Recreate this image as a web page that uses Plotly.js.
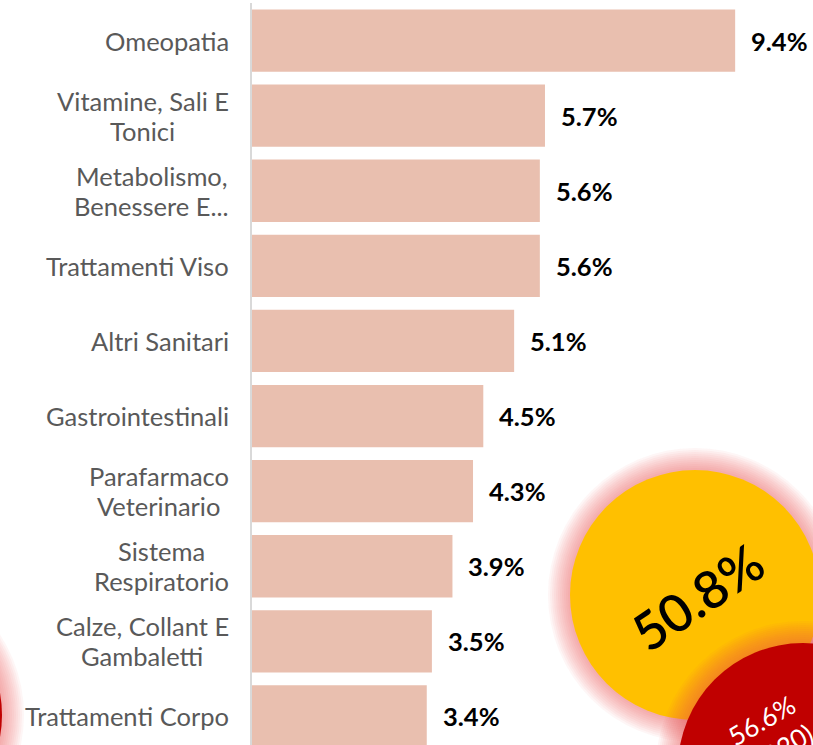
<!DOCTYPE html>
<html>
<head>
<meta charset="utf-8">
<script src="https://cdn.plot.ly/plotly-3.0.1.min.js"></script>
<style>
html,body{margin:0;padding:0;background:#fff;}
#chart{width:813px;height:745px;}
</style>
</head>
<body>
<div id="chart"></div>
<script>
// ---- data ----
var categories = ["Omeopatia","Vitamine, Sali E Tonici","Metabolismo, Benessere E...","Trattamenti Viso","Altri Sanitari","Gastrointestinali","Parafarmaco Veterinario","Sistema Respiratorio","Calze, Collant E Gambaletti","Trattamenti Corpo"];
var tickLabels = ["Omeopatia","Vitamine, Sali E<br>Tonici","Metabolismo,<br>Benessere E...","Trattamenti Viso","Altri Sanitari","Gastrointestinali","Parafarmaco<br>Veterinario","Sistema<br>Respiratorio","Calze, Collant E<br>Gambaletti","Trattamenti Corpo"];
var shareValues = [9.4,5.7,5.6,5.6,5.1,4.5,4.3,3.9,3.5,3.4];
var bubbleLabels = ["50.8%","56.6%<br>(2020)"];

// ---- layout helpers ----
var W = 813, H = 745;
var M = {l:252, r:0, t:3, b:0};
var PW = W - M.l - M.r, PH = H - M.t - M.b;
function px2x(px){ return (px - M.l)/PW; }
function px2y(py){ return (H - M.b - py)/PH; }

var FONT = "Lato, 'Open Sans', sans-serif";
var LABEL_SIZE = 25.5;
var LINE_GAP = 30;
var LABEL_GAP = 23;

function draw(){
  var ctx = document.createElement('canvas').getContext('2d');
  ctx.font = LABEL_SIZE + 'px Lato';
  function textW(s){ return ctx.measureText(s).width; }

  var trace = {
    type:'bar', orientation:'h',
    y: categories, x: shareValues,
    marker:{color:'#E9BFAF'},
    hoverinfo:'none'
  };

  var annotations = [];
  categories.forEach(function(c,i){
    var lines = tickLabels[i].split('<br>');
    var n = lines.length;
    var maxW = Math.max.apply(null, lines.map(textW));
    lines.forEach(function(line, j){
      annotations.push({
        xref:'paper', yref:'y', x:0, y:c, xanchor:'center', yanchor:'middle',
        xshift:-LABEL_GAP - maxW/2, yshift:((n-1)/2 - j) * LINE_GAP, showarrow:false,
        text: line, font:{family:FONT, size:LABEL_SIZE, color:'#595959'}
      });
    });
    annotations.push({
      xref:'x', yref:'y', x:shareValues[i], y:c, xanchor:'left', yanchor:'middle',
      xshift:14, showarrow:false,
      text:'<b>'+shareValues[i].toFixed(1)+'%</b>', font:{family:FONT, size:LABEL_SIZE, color:'#000000'}
    });
  });

  var shapes = [];
  function glowCircle(cx, cy, r, fill){
    for (var k=11;k>=1;k--){
      var rr = r + k*2;
      shapes.push({type:'circle', layer:'above', xref:'paper', yref:'paper',
        xsizemode:'pixel', ysizemode:'pixel', xanchor:px2x(cx), yanchor:px2y(cy),
        x0:-rr, x1:rr, y0:-rr, y1:rr,
        fillcolor:'rgba(245,70,80,0.05)', line:{width:0}});
    }
    shapes.push({type:'circle', layer:'above', xref:'paper', yref:'paper',
      xsizemode:'pixel', ysizemode:'pixel', xanchor:px2x(cx), yanchor:px2y(cy),
      x0:-r, x1:r, y0:-r, y1:r, fillcolor:fill, line:{width:0}});
  }
  glowCircle(-123, 715, 125, '#C00000');
  glowCircle(695, 595, 125, '#FFC000');
  glowCircle(803, 768, 125, '#C00000');

  annotations.push({xref:'paper', yref:'paper', x:px2x(697), y:px2y(597), xanchor:'center', yanchor:'middle',
    showarrow:false, textangle:-34, text:bubbleLabels[0], font:{family:FONT, size:52, weight:600, color:'#000000'}});
  annotations.push({xref:'paper', yref:'paper', x:px2x(770), y:px2y(735), xanchor:'center', yanchor:'middle',
    showarrow:false, textangle:-30, text:bubbleLabels[1], font:{family:FONT, size:26, color:'#FFFFFF'}});

  var layout = {
    width:W, height:H,
    margin:M,
    paper_bgcolor:'#ffffff', plot_bgcolor:'#ffffff',
    showlegend:false,
    bargap:0.17,
    xaxis:{visible:false, range:[0, PW/51.4], fixedrange:true},
    yaxis:{type:'category', categoryorder:'array', categoryarray:categories,
      range:[9.38,-0.5], showticklabels:false, ticks:'', showgrid:false, zeroline:false,
      showline:true, linecolor:'#D9D9D9', linewidth:2, fixedrange:true},
    annotations:annotations,
    shapes:shapes
  };

  Plotly.newPlot('chart',[trace],layout,{displayModeBar:false, staticPlot:true});
}

if (document.fonts && document.fonts.load) {
  document.fonts.load(LABEL_SIZE + 'px Lato').then(draw, draw);
} else { draw(); }
</script>
</body>
</html>
